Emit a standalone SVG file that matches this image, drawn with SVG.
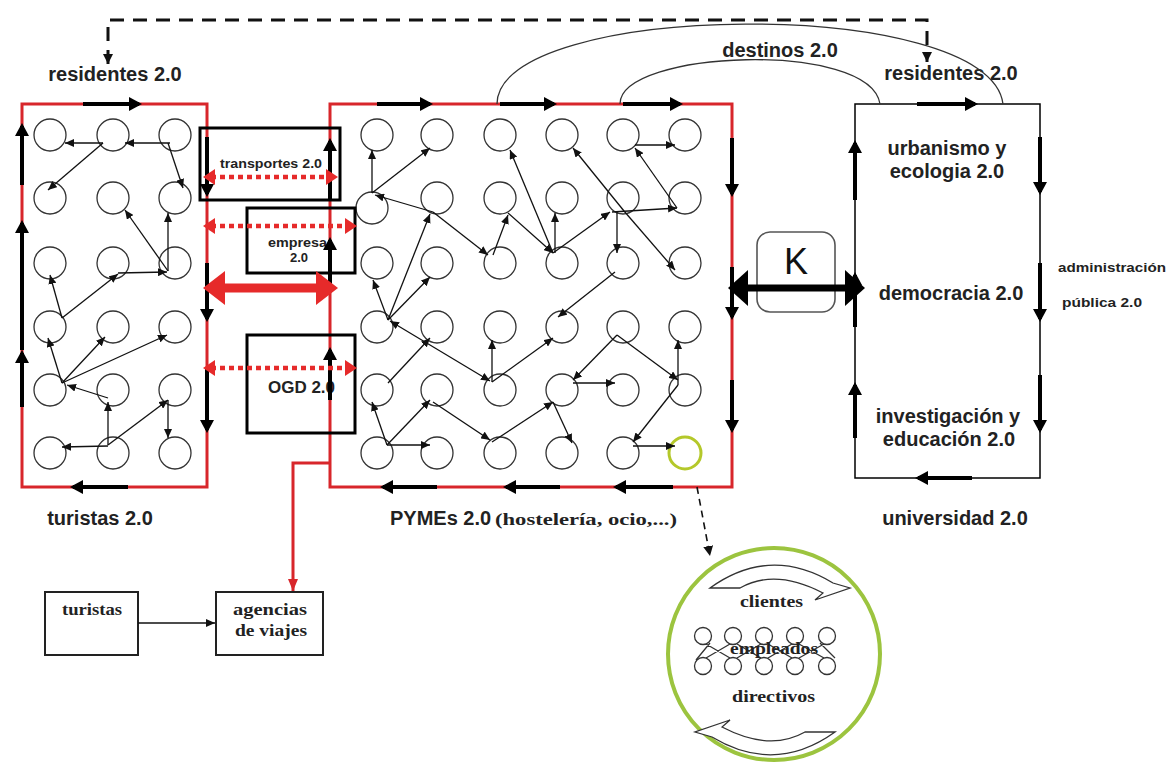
<svg xmlns="http://www.w3.org/2000/svg" width="1168" height="769" viewBox="0 0 1168 769">
<style>
.c{fill:none;stroke:#333;stroke-width:1.3}
.e{fill:none;stroke:#111;stroke-width:1.3;marker-end:url(#a)}
.s{fill:none;stroke:#000;stroke-width:4;marker-end:url(#b)}
.rb{fill:none;stroke:#d8262b;stroke-width:3}
.bx{fill:none;stroke:#000;stroke-width:3}
.t{font-family:"Liberation Sans",Arial,sans-serif;font-weight:bold;fill:#222}
.sf{font-family:"Liberation Serif","Times New Roman",serif;font-weight:bold;fill:#222}
.rd{fill:none;stroke:#e62a2a;stroke-width:4.5;stroke-dasharray:5 4;marker-start:url(#r);marker-end:url(#r)}
.ar{fill:#fff;stroke:#333;stroke-width:1.3}
</style>
<defs>
<marker id="a" markerUnits="userSpaceOnUse" markerWidth="9" markerHeight="8" refX="9" refY="4" orient="auto"><path d="M0,0 L9,4 L0,8 z" fill="#111"/></marker>
<marker id="b" markerUnits="userSpaceOnUse" markerWidth="13" markerHeight="14" refX="10" refY="7" orient="auto"><path d="M0,0 L13,7 L0,14 z" fill="#000"/></marker>
<marker id="r" markerUnits="userSpaceOnUse" markerWidth="12" markerHeight="16" refX="4" refY="8" orient="auto-start-reverse"><path d="M0,0 L12,8 L0,16 z" fill="#e62a2a"/></marker>
<marker id="R" markerUnits="userSpaceOnUse" markerWidth="22" markerHeight="34" refX="4" refY="17" orient="auto-start-reverse"><path d="M0,0 L22,17 L0,34 z" fill="#e62a2a"/></marker>
<marker id="K" markerUnits="userSpaceOnUse" markerWidth="20" markerHeight="36" refX="4" refY="18" orient="auto-start-reverse"><path d="M0,0 L20,18 L0,36 z" fill="#000"/></marker>
<marker id="d" markerUnits="userSpaceOnUse" markerWidth="10" markerHeight="10" refX="10" refY="5" orient="auto-start-reverse"><path d="M0,0 L10,5 L0,10 z" fill="#111"/></marker>
<marker id="rs" markerUnits="userSpaceOnUse" markerWidth="12" markerHeight="10" refX="12" refY="5" orient="auto"><path d="M0,0 L12,5 L0,10 z" fill="#d8262b"/></marker>
</defs>
<rect width="1168" height="769" fill="#fff"/>

<!-- labels -->
<g id="labels">
<text class="t" x="115" y="81" font-size="20" text-anchor="middle">residentes 2.0</text>
<text class="t" x="780" y="57" font-size="20" text-anchor="middle">destinos 2.0</text>
<text class="t" x="951" y="80" font-size="20" text-anchor="middle">residentes 2.0</text>
<text class="t" x="100" y="525" font-size="20" text-anchor="middle">turistas 2.0</text>
<text class="t" x="390" y="525" font-size="20">PYMEs 2.0</text>
<text class="sf" x="495" y="525" font-size="16" textLength="182" lengthAdjust="spacingAndGlyphs">(hostelería, ocio,...)</text>
<text class="t" x="955" y="525" font-size="20" text-anchor="middle">universidad 2.0</text>
</g>

<!-- left box: turistas 2.0 -->
<g id="turistas20">
<rect class="rb" x="22" y="104" width="185" height="383"/>
<g class="c">
<circle cx="50" cy="135" r="16"/><circle cx="113" cy="135" r="16"/><circle cx="175" cy="135" r="16"/>
<circle cx="50" cy="198" r="16"/><circle cx="113" cy="198" r="16"/><circle cx="175" cy="198" r="16"/>
<circle cx="50" cy="263" r="16"/><circle cx="113" cy="263" r="16"/><circle cx="175" cy="263" r="16"/>
<circle cx="50" cy="327" r="16"/><circle cx="113" cy="327" r="16"/><circle cx="175" cy="327" r="16"/>
<circle cx="50" cy="390" r="16"/><circle cx="113" cy="390" r="16"/><circle cx="175" cy="390" r="16"/>
<circle cx="50" cy="453" r="16"/><circle cx="113" cy="453" r="16"/><circle cx="175" cy="453" r="16"/>
</g>
</g>

<!-- middle box: PYMEs 2.0 -->
<g id="pymes20">
<rect class="rb" x="330" y="104" width="402" height="383"/>
<g class="c">
<circle cx="377" cy="135" r="16"/><circle cx="437" cy="135" r="16"/><circle cx="500" cy="135" r="16"/><circle cx="562" cy="135" r="16"/><circle cx="623" cy="135" r="16"/><circle cx="685" cy="135" r="16"/>
<circle cx="372" cy="208" r="16"/><circle cx="437" cy="198" r="16"/><circle cx="500" cy="198" r="16"/><circle cx="562" cy="198" r="16"/><circle cx="623" cy="198" r="16"/><circle cx="685" cy="198" r="16"/>
<circle cx="377" cy="263" r="16"/><circle cx="437" cy="263" r="16"/><circle cx="500" cy="263" r="16"/><circle cx="562" cy="263" r="16"/><circle cx="623" cy="263" r="16"/><circle cx="685" cy="263" r="16"/>
<circle cx="377" cy="327" r="16"/><circle cx="437" cy="327" r="16"/><circle cx="500" cy="327" r="16"/><circle cx="562" cy="327" r="16"/><circle cx="623" cy="327" r="16"/><circle cx="685" cy="327" r="16"/>
<circle cx="377" cy="390" r="16"/><circle cx="437" cy="390" r="16"/><circle cx="500" cy="390" r="16"/><circle cx="562" cy="390" r="16"/><circle cx="623" cy="390" r="16"/><circle cx="685" cy="390" r="16"/>
<circle cx="377" cy="453" r="16"/><circle cx="437" cy="453" r="16"/><circle cx="500" cy="453" r="16"/><circle cx="562" cy="453" r="16"/><circle cx="623" cy="453" r="16"/>
</g>
<circle cx="685" cy="453" r="16" fill="none" stroke="#b4c82a" stroke-width="3"/>
</g>

<!-- right box: administración pública 2.0 -->
<g id="admin20">
<rect x="855" y="104" width="185" height="374" fill="none" stroke="#000" stroke-width="1.5"/>
<text class="t" x="947" y="155" font-size="20" text-anchor="middle">urbanismo y</text>
<text class="t" x="947" y="178" font-size="20" text-anchor="middle">ecologia 2.0</text>
<text class="t" x="951" y="300" font-size="20" text-anchor="middle">democracia 2.0</text>
<text class="t" x="948" y="423" font-size="20" text-anchor="middle">investigación y</text>
<text class="t" x="949" y="446" font-size="20" text-anchor="middle">educación 2.0</text>
<text class="t" x="1058" y="272" font-size="13" textLength="108" lengthAdjust="spacingAndGlyphs">administración</text>
<text class="t" x="1062" y="307" font-size="13" textLength="80" lengthAdjust="spacingAndGlyphs">pública 2.0</text>
</g>

<!-- small boxes -->
<g id="transportes">
<rect class="bx" x="200" y="128" width="140" height="72"/>
<text class="t" x="220" y="168" font-size="13" textLength="102" lengthAdjust="spacingAndGlyphs">transportes 2.0</text>
</g>
<g id="empresa">
<rect class="bx" x="247" y="208" width="108" height="65"/>
<text class="t" x="268" y="247" font-size="13" textLength="59" lengthAdjust="spacingAndGlyphs">empresa</text>
<text class="t" x="290" y="262" font-size="13">2.0</text>
</g>
<g id="ogd">
<rect class="bx" x="247" y="335" width="108" height="98"/>
<text class="t" x="268" y="393" font-size="17" textLength="67" lengthAdjust="spacingAndGlyphs">OGD 2.0</text>
</g>
<g id="k">
<rect x="757" y="232" width="78" height="80" rx="13" fill="none" stroke="#555" stroke-width="1.6"/>
<text x="796" y="274" font-family="Liberation Sans,Arial,sans-serif" font-size="36" text-anchor="middle" fill="#111">K</text>
</g>
<g id="turistas">
<rect x="45" y="592" width="93" height="63" fill="none" stroke="#222" stroke-width="2"/>
<text class="sf" x="92" y="615" font-size="16" text-anchor="middle" textLength="60" lengthAdjust="spacingAndGlyphs">turistas</text>
</g>
<g id="agencias">
<rect x="216" y="592" width="107" height="63" fill="none" stroke="#222" stroke-width="2"/>
<text class="sf" x="270" y="615" font-size="16" text-anchor="middle" textLength="74" lengthAdjust="spacingAndGlyphs">agencias</text>
<text class="sf" x="271" y="636" font-size="16" text-anchor="middle" textLength="72" lengthAdjust="spacingAndGlyphs">de viajes</text>
</g>
<g id="empresaDetalle">
<circle cx="774" cy="654" r="106" fill="none" stroke="#9cc43f" stroke-width="4"/>
<path class="ar" d="M710,588 Q770,545 833,583 L850,588 L815,600 L823,593 Q775,568 740,588 Z"/>
<path class="ar" d="M710,588 Q770,545 833,583 L850,588 L815,600 L823,593 Q775,568 740,588 Z" transform="rotate(180 772.5 660)"/>
<g class="c">
<circle cx="703" cy="636" r="8.5"/><circle cx="733" cy="636" r="8.5"/><circle cx="764" cy="636" r="8.5"/><circle cx="795" cy="636" r="8.5"/><circle cx="827" cy="636" r="8.5"/>
<circle cx="703" cy="666" r="8.5"/><circle cx="733" cy="666" r="8.5"/><circle cx="764" cy="666" r="8.5"/><circle cx="795" cy="666" r="8.5"/><circle cx="827" cy="666" r="8.5"/>
<path d="M706,644 L730,658 M706,658 L730,644 M737,644 L761,658 M737,658 L761,644 M768,644 L792,658 M768,658 L792,644 M799,644 L824,658 M799,658 L824,644 M696,660 L710,643 M820,643 L835,658"/>
</g>
<text class="sf" x="740" y="607" font-size="17" textLength="63" lengthAdjust="spacingAndGlyphs">clientes</text>
<text class="sf" x="730" y="654" font-size="17" textLength="88" lengthAdjust="spacingAndGlyphs">empleados</text>
<text class="sf" x="732" y="702" font-size="17" textLength="83" lengthAdjust="spacingAndGlyphs">directivos</text>
</g>

<!-- connectors -->
<g id="connectors">
<!-- left box internal -->
<line class="e" x1="170" y1="143" x2="125" y2="143"/>
<line class="e" x1="103" y1="143" x2="65" y2="143"/>
<line class="e" x1="103" y1="143" x2="48" y2="190"/>
<line class="e" x1="168" y1="143" x2="183" y2="188"/>
<line class="e" x1="168" y1="271" x2="125" y2="210"/>
<line class="e" x1="168" y1="271" x2="168" y2="213"/>
<line class="e" x1="118" y1="273" x2="167" y2="272"/>
<line class="e" x1="62" y1="318" x2="118" y2="274"/>
<line class="e" x1="62" y1="318" x2="50" y2="275"/>
<line class="e" x1="62" y1="383" x2="48" y2="338"/>
<line class="e" x1="62" y1="383" x2="105" y2="337"/>
<line class="e" x1="62" y1="383" x2="167" y2="335"/>
<line class="e" x1="108" y1="398" x2="67" y2="385"/>
<line class="e" x1="108" y1="445" x2="108" y2="402"/>
<line class="e" x1="108" y1="446" x2="62" y2="447"/>
<line class="e" x1="108" y1="445" x2="168" y2="400"/>
<line class="e" x1="168" y1="400" x2="168" y2="438"/>
<!-- middle box internal -->
<line class="e" x1="372" y1="193" x2="372" y2="150"/>
<line class="e" x1="372" y1="193" x2="430" y2="148"/>
<line class="e" x1="433" y1="212" x2="375" y2="195"/>
<line class="e" x1="433" y1="212" x2="488" y2="255"/>
<line class="e" x1="388" y1="320" x2="430" y2="214"/>
<line class="e" x1="493" y1="255" x2="508" y2="215"/>
<line class="e" x1="508" y1="213" x2="553" y2="253"/>
<line class="e" x1="555" y1="253" x2="555" y2="213"/>
<line class="e" x1="553" y1="253" x2="510" y2="150"/>
<line class="e" x1="553" y1="253" x2="610" y2="212"/>
<line class="e" x1="612" y1="212" x2="677" y2="208"/>
<line class="e" x1="617" y1="212" x2="617" y2="253"/>
<line class="e" x1="624" y1="211" x2="573" y2="148"/>
<line class="e" x1="624" y1="211" x2="675" y2="270"/>
<line class="e" x1="677" y1="208" x2="635" y2="148"/>
<line class="e" x1="635" y1="145" x2="675" y2="145"/>
<line class="e" x1="615" y1="272" x2="558" y2="317"/>
<line class="e" x1="492" y1="382" x2="553" y2="338"/>
<line class="e" x1="617" y1="335" x2="573" y2="380"/>
<line class="e" x1="617" y1="335" x2="678" y2="380"/>
<line class="e" x1="573" y1="383" x2="615" y2="383"/>
<line class="e" x1="678" y1="385" x2="678" y2="340"/>
<line class="e" x1="678" y1="385" x2="633" y2="442"/>
<line class="e" x1="633" y1="446" x2="675" y2="446"/>
<line class="e" x1="492" y1="442" x2="553" y2="402"/>
<line class="e" x1="553" y1="402" x2="572" y2="443"/>
<line class="e" x1="388" y1="320" x2="373" y2="280"/>
<line class="e" x1="388" y1="320" x2="430" y2="277"/>
<line class="e" x1="440" y1="351" x2="390" y2="321"/>
<line class="e" x1="440" y1="351" x2="490" y2="381"/>
<line class="e" x1="492" y1="382" x2="492" y2="340"/>
<line class="e" x1="388" y1="383" x2="430" y2="338"/>
<line class="e" x1="387" y1="445" x2="372" y2="402"/>
<line class="e" x1="387" y1="445" x2="430" y2="400"/>
<line class="e" x1="387" y1="445" x2="430" y2="445"/>
<line class="e" x1="433" y1="402" x2="490" y2="440"/>
<!-- flow segments on box borders -->
<line class="s" x1="83" y1="104" x2="139" y2="104"/>
<line class="s" x1="22" y1="185" x2="22" y2="126"/>
<line class="s" x1="22" y1="407" x2="22" y2="353"/>
<line class="s" x1="22" y1="350" x2="22" y2="223"/>
<line class="s" x1="207" y1="137" x2="207" y2="194"/>
<line class="s" x1="207" y1="263" x2="207" y2="319"/>
<line class="s" x1="207" y1="367" x2="207" y2="430"/>
<line class="s" x1="128" y1="487" x2="73" y2="487"/>
<line class="s" x1="377" y1="104" x2="430" y2="104"/>
<line class="s" x1="500" y1="104" x2="554" y2="104"/>
<line class="s" x1="623" y1="104" x2="680" y2="104"/>
<line class="s" x1="330" y1="200" x2="330" y2="141"/>
<line class="s" x1="330" y1="290" x2="330" y2="240"/>
<line class="s" x1="330" y1="400" x2="330" y2="350"/>
<line class="s" x1="732" y1="138" x2="732" y2="194"/>
<line class="s" x1="732" y1="267" x2="732" y2="317"/>
<line class="s" x1="732" y1="380" x2="732" y2="430"/>
<line class="s" x1="437" y1="487" x2="383" y2="487"/>
<line class="s" x1="560" y1="487" x2="506" y2="487"/>
<line class="s" x1="673" y1="487" x2="616" y2="487"/>
<line class="s" x1="917" y1="104" x2="975" y2="104"/>
<line class="s" x1="855" y1="200" x2="855" y2="143"/>
<line class="s" x1="855" y1="327" x2="855" y2="275"/>
<line class="s" x1="855" y1="438" x2="855" y2="385"/>
<line class="s" x1="1040" y1="137" x2="1040" y2="192"/>
<line class="s" x1="1040" y1="263" x2="1040" y2="319"/>
<line class="s" x1="1040" y1="375" x2="1040" y2="430"/>
<line class="s" x1="972" y1="478" x2="918" y2="478"/>
<!-- red exchanges -->
<line class="rd" x1="211" y1="177" x2="330" y2="177"/>
<line class="rd" x1="211" y1="226" x2="349" y2="226"/>
<line class="rd" x1="211" y1="368" x2="349" y2="368"/>
<line x1="221" y1="288" x2="320" y2="288" stroke="#e62a2a" stroke-width="9" marker-start="url(#R)" marker-end="url(#R)"/>
<!-- K exchange -->
<line x1="744" y1="288" x2="849" y2="288" stroke="#000" stroke-width="7" marker-start="url(#K)" marker-end="url(#K)"/>
<!-- destinos arcs -->
<path d="M497,104 C497,0 990,-5 1003,104" fill="none" stroke="#333" stroke-width="1.3"/>
<path d="M620,104 C620,50 870,40 880,104" fill="none" stroke="#333" stroke-width="1.3"/>
<!-- dashed residentes link -->
<path d="M108,64 V20 H927 V62" fill="none" stroke="#111" stroke-width="3" stroke-dasharray="14 9" marker-start="url(#d)" marker-end="url(#d)"/>
<!-- dashed to detail circle -->
<line x1="697" y1="487" x2="710" y2="556" stroke="#111" stroke-width="1.6" stroke-dasharray="7 5" marker-end="url(#d)"/>
<!-- red to agencias -->
<path d="M330,463 H293 V591" fill="none" stroke="#d8262b" stroke-width="3" marker-end="url(#rs)"/>
<!-- turistas to agencias -->
<line class="e" x1="138" y1="623" x2="215" y2="623"/>
</g>
</svg>
